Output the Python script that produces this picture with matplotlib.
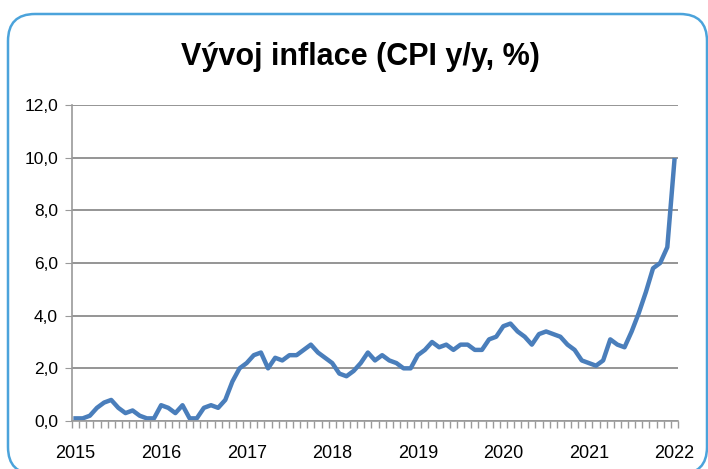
import matplotlib
matplotlib.use("Agg")
import numpy as np
import matplotlib.pyplot as plt
from matplotlib.patches import FancyBboxPatch
from matplotlib.ticker import FuncFormatter, MultipleLocator

# monthly CPI y/y, Jan 2015 .. Jan 2022
cpi_2015 = [0.1, 0.1, 0.2, 0.5, 0.7, 0.8, 0.5, 0.3, 0.4, 0.2, 0.1, 0.1]
cpi_2016 = [0.6, 0.5, 0.3, 0.6, 0.1, 0.1, 0.5, 0.6, 0.5, 0.8, 1.5, 2.0]
cpi_2017 = [2.2, 2.5, 2.6, 2.0, 2.4, 2.3, 2.5, 2.5, 2.7, 2.9, 2.6, 2.4]
cpi_2018 = [2.2, 1.8, 1.7, 1.9, 2.2, 2.6, 2.3, 2.5, 2.3, 2.2, 2.0, 2.0]
cpi_2019 = [2.5, 2.7, 3.0, 2.8, 2.9, 2.7, 2.9, 2.9, 2.7, 2.7, 3.1, 3.2]
cpi_2020 = [3.6, 3.7, 3.4, 3.2, 2.9, 3.3, 3.4, 3.3, 3.2, 2.9, 2.7, 2.3]
cpi_2021 = [2.2, 2.1, 2.3, 3.1, 2.9, 2.8, 3.4, 4.1, 4.9, 5.8, 6.0, 6.6]
cpi_2022 = [9.9]
years = ["2015", "2016", "2017", "2018", "2019", "2020", "2021", "2022"]

cpi = cpi_2015 + cpi_2016 + cpi_2017 + cpi_2018 + cpi_2019 + cpi_2020 + cpi_2021 + cpi_2022
x = np.arange(len(cpi))

fig = plt.figure(figsize=(7.08, 4.69), dpi=100)

# rounded frame
bg = fig.add_axes([0, 0, 1, 1])
bg.set_xlim(0, 708)
bg.set_ylim(469, 0)
bg.axis('off')
frame = FancyBboxPatch((8, 14), 699, 460, boxstyle="round,pad=0,rounding_size=27",
                       fc='white', ec='#4BA3DB', lw=1.8)
bg.add_patch(frame)

bg.text(360, 57, "Vývoj inflace (CPI y/y, %)", ha='center', va='center',
        fontsize=22, fontweight='bold', family=['Liberation Sans', 'DejaVu Sans'])

ax = fig.add_axes([72/708, 1 - 421/469, (678 - 72)/708, (421 - 105)/469])
ax.patch.set_alpha(0)
ax.plot(x, cpi, color='#4A7EBB', lw=3.2, solid_joinstyle='round')
ax.set_xlim(-0.5, len(cpi) - 0.5)
ax.set_ylim(0, 12)

ax.yaxis.set_major_locator(MultipleLocator(2))
ax.yaxis.set_major_formatter(FuncFormatter(lambda v, p: f"{v:.1f}".replace('.', ',')))
ax.grid(axis='y', color='#8C8C8C', lw=1.3)
ax.set_axisbelow(True)

ax.set_xticks(x[::12])
ax.set_xticklabels(years)
ax.set_xticks(np.arange(len(cpi) + 1) - 0.5, minor=True)

for s in ['top', 'right']:
    ax.spines[s].set_visible(False)
for s in ['left', 'bottom']:
    ax.spines[s].set_color('#9A9A9A')
    ax.spines[s].set_linewidth(1.2)

ax.tick_params(axis='y', length=5, color='#9A9A9A', pad=5, labelsize=12.5)
ax.tick_params(axis='x', which='major', length=0, pad=17, labelsize=13)
ax.tick_params(axis='x', which='minor', length=5, color='#9A9A9A', width=1)
for lab in ax.get_xticklabels() + ax.get_yticklabels():
    lab.set_family(['Liberation Sans', 'DejaVu Sans'])

fig.savefig("out.png", dpi=100)
